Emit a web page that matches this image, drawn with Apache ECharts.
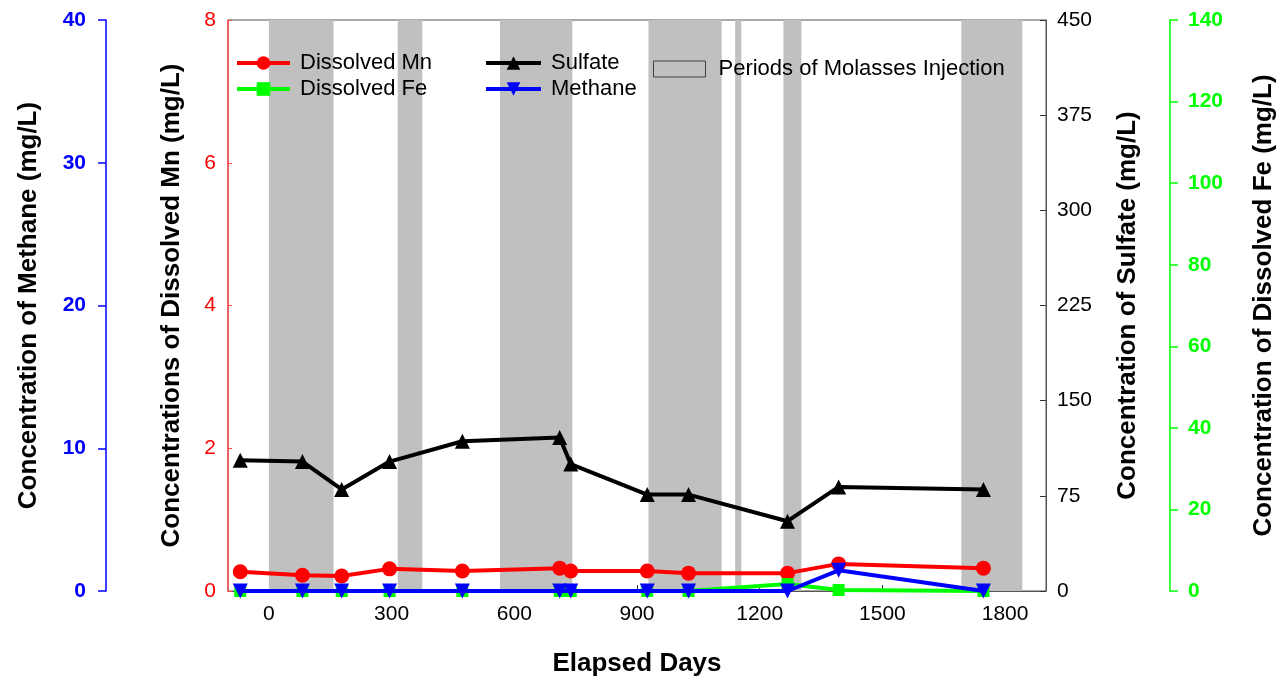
<!DOCTYPE html>
<html>
<head>
<meta charset="utf-8">
<script src="https://cdn.jsdelivr.net/npm/echarts@6/dist/echarts.min.js"></script>
<style>
  html, body { margin: 0; padding: 0; background: #fff; }
  #chart { width: 1281px; height: 684px; }
</style>
</head>
<body>
<div id="chart"></div>
<script>
// sampling days and measured values
var days = [-70, 82, 178, 295, 473, 711, 738, 925, 1026, 1268, 1393, 1747];
var mn = [0.27, 0.22, 0.21, 0.31, 0.28, 0.32, 0.28, 0.28, 0.25, 0.25, 0.38, 0.32];
var fe = [0, 0, 0, 0, 0, 0, 0, 0, 0, 1.7, 0.25, 0];
var sulfate = [103, 102, 80, 102, 118, 121, 100, 76, 76, 55, 82, 80];
var methane = [0, 0, 0, 0, 0, 0, 0, 0, 0, 0, 1.45, 0];
// molasses injection periods (start, end in days)
var periods = [[0, 158], [315, 375], [565, 742], [928, 1107], [1140, 1155], [1258, 1302], [1693, 1842]];
var xTicks = [0, 300, 600, 900, 1200, 1500, 1800];

var FONT = 'Liberation Sans, Arial, sans-serif';

function pairs(vals) {
  return days.map(function (d, i) { return [d, vals[i]]; });
}
function plain(v) { return String(v); }

var myChart = echarts.init(document.getElementById('chart'));
var titleStyle = { fontFamily: FONT, fontSize: 26, fontWeight: 'bold', color: '#000' };
var legendText = { fontFamily: FONT, fontSize: 22, color: '#000', padding: [0, 0, 0, 5] };

var option = {
  animation: false,
  textStyle: { fontFamily: FONT },
  grid: {
    left: 228, right: 235, top: 20, bottom: 93,
    outerBoundsMode: 'none', containLabel: false,
    show: true, borderColor: '#555', borderWidth: 1, backgroundColor: 'transparent'
  },
  legend: [
    {
      data: ['Dissolved Mn', 'Dissolved Fe'],
      orient: 'vertical', left: 235, top: 52, padding: 0,
      itemWidth: 53, itemHeight: 17, itemGap: 4,
      lineStyle: { width: 4 },
      textStyle: legendText
    },
    {
      data: ['Sulfate', 'Methane'],
      orient: 'vertical', left: 484, top: 52, padding: 0,
      itemWidth: 55, itemHeight: 17, itemGap: 4,
      lineStyle: { width: 4 },
      textStyle: legendText
    },
    {
      data: [{
        name: 'Periods of Molasses Injection', icon: 'rect',
        itemStyle: { color: '#c0c0c0', borderColor: '#404040', borderWidth: 1 }
      }],
      left: 653, top: 58, padding: 0,
      itemWidth: 52, itemHeight: 16,
      textStyle: { fontFamily: FONT, fontSize: 22, color: '#000', padding: [0, 0, 0, 8] }
    }
  ],
  xAxis: {
    type: 'value', min: -100, max: 1900,
    name: 'Elapsed Days', nameLocation: 'middle', nameGap: 60,
    nameTextStyle: titleStyle,
    splitLine: { show: false },
    axisLine: { show: true, onZero: false, lineStyle: { color: '#555', width: 1 } },
    axisTick: { inside: true, length: 6, customValues: xTicks, lineStyle: { color: '#333' } },
    axisLabel: { customValues: xTicks, formatter: plain, fontSize: 21, color: '#000', margin: 13, fontFamily: FONT }
  },
  yAxis: [
    {
      type: 'value', min: 0, max: 8, interval: 2, position: 'left', offset: 0,
      name: 'Concentrations of Dissolved Mn (mg/L)', nameLocation: 'middle', nameGap: 43,
      nameTextStyle: titleStyle,
      splitLine: { show: false },
      axisLine: { show: true, onZero: false, lineStyle: { color: '#ff4848', width: 1.5 } },
      axisTick: { show: true, inside: true, length: 4, lineStyle: { color: '#ff4848' } },
      axisLabel: { formatter: plain, fontSize: 21, color: '#ff0000', margin: 12, fontFamily: FONT }
    },
    {
      type: 'value', min: 0, max: 40, interval: 10, position: 'left', offset: 122,
      name: 'Concentration of Methane (mg/L)', nameLocation: 'middle', nameGap: 64,
      nameTextStyle: titleStyle,
      splitLine: { show: false },
      axisLine: { show: true, onZero: false, lineStyle: { color: '#0000ff', width: 1.5 } },
      axisTick: { show: true, length: 8, lineStyle: { color: '#0000ff', width: 1.5 } },
      axisLabel: { formatter: plain, fontSize: 21, fontWeight: 'bold', color: '#0000ff', margin: 20, fontFamily: FONT }
    },
    {
      type: 'value', min: 0, max: 450, interval: 75, position: 'right', offset: 0,
      name: 'Concentration of Sulfate (mg/L)', nameLocation: 'middle', nameGap: 69,
      nameTextStyle: titleStyle,
      splitLine: { show: false },
      axisLine: { show: true, onZero: false, lineStyle: { color: '#555', width: 1 } },
      axisTick: { show: true, inside: true, length: 6, lineStyle: { color: '#333' } },
      axisLabel: { formatter: plain, fontSize: 21, color: '#000', margin: 11, fontFamily: FONT }
    },
    {
      type: 'value', min: 0, max: 140, interval: 20, position: 'right', offset: 124,
      name: 'Concentration of Dissolved Fe (mg/L)', nameLocation: 'middle', nameGap: 81,
      nameTextStyle: titleStyle,
      splitLine: { show: false },
      axisLine: { show: true, onZero: false, lineStyle: { color: '#00ff00', width: 1.5 } },
      axisTick: { show: true, length: 8, lineStyle: { color: '#00ff00', width: 1.5 } },
      axisLabel: { formatter: plain, fontSize: 21, fontWeight: 'bold', color: '#00ff00', margin: 18, fontFamily: FONT }
    }
  ],
  series: [
    {
      name: 'Periods of Molasses Injection', type: 'line', data: [], z: 1,
      color: '#c0c0c0',
      markArea: {
        silent: true,
        itemStyle: { color: '#c0c0c0' },
        data: periods.map(function (p) { return [{ xAxis: p[0] }, { xAxis: p[1] }]; })
      }
    },
    {
      name: 'Dissolved Mn', type: 'line', yAxisIndex: 0, data: pairs(mn),
      color: '#ff0000', symbol: 'circle', symbolSize: 15,
      lineStyle: { width: 4 }, z: 3
    },
    {
      name: 'Dissolved Fe', type: 'line', yAxisIndex: 3, data: pairs(fe),
      color: '#00ff00', symbol: 'rect', symbolSize: 12,
      lineStyle: { width: 4 }, z: 3
    },
    {
      name: 'Sulfate', type: 'line', yAxisIndex: 2, data: pairs(sulfate),
      color: '#000000', symbol: 'triangle', symbolSize: 15,
      lineStyle: { width: 4 }, z: 3
    },
    {
      name: 'Methane', type: 'line', yAxisIndex: 1, data: pairs(methane),
      color: '#0000ff', symbol: 'path://M0,0 L10,0 L5,9 Z', symbolSize: 15,
      lineStyle: { width: 4 }, z: 4
    }
  ]
};
myChart.setOption(option);
</script>
</body>
</html>
